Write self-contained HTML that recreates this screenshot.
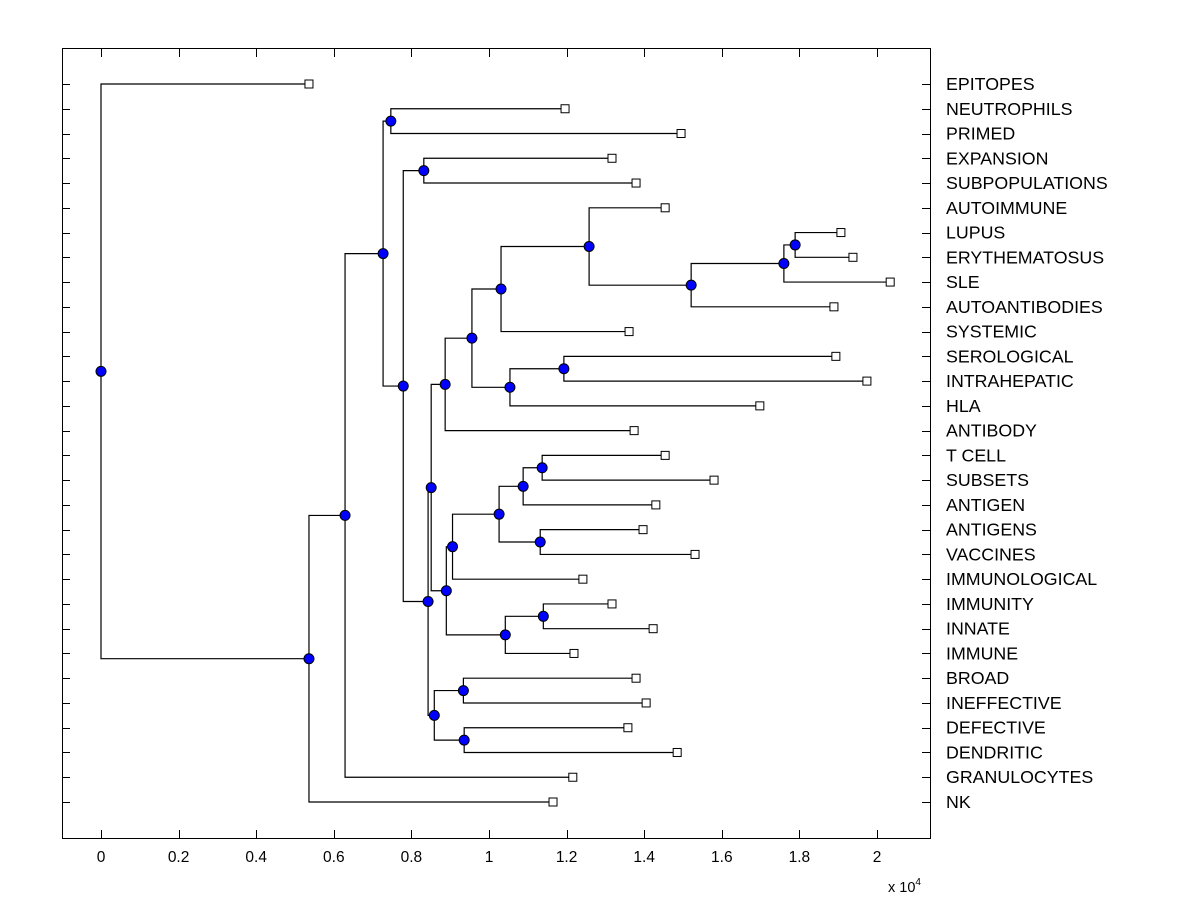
<!DOCTYPE html>
<html><head><meta charset="utf-8"><style>
html,body{margin:0;padding:0;background:#fff;}
svg{display:block;font-family:"Liberation Sans",Arial,sans-serif;}
</style></head><body>
<svg id="chart" width="1200" height="900" viewBox="0 0 1200 900" xmlns="http://www.w3.org/2000/svg">
<rect x="0" y="0" width="1200" height="900" fill="#fff"/>
<g id="ticks"></g>
<g id="tree"></g>
<g id="marks"></g>
<g id="labels"></g>
<rect x="62.5" y="48.5" width="868" height="790" fill="none" stroke="#000" stroke-width="1"/>
<text x="888" y="892" font-size="14.5">x 10<tspan dy="-7" font-size="10">4</tspan></text>
</svg>
<script>
const leafLabels = ["EPITOPES","NEUTROPHILS","PRIMED","EXPANSION","SUBPOPULATIONS","AUTOIMMUNE","LUPUS","ERYTHEMATOSUS","SLE","AUTOANTIBODIES","SYSTEMIC","SEROLOGICAL","INTRAHEPATIC","HLA","ANTIBODY","T CELL","SUBSETS","ANTIGEN","ANTIGENS","VACCINES","IMMUNOLOGICAL","IMMUNITY","INNATE","IMMUNE","BROAD","INEFFECTIVE","DEFECTIVE","DENDRITIC","GRANULOCYTES","NK"];
const leafHeights = [0.536,1.196,1.495,1.317,1.379,1.454,1.907,1.938,2.034,1.889,1.361,1.894,1.974,1.698,1.374,1.454,1.580,1.430,1.397,1.531,1.242,1.317,1.423,1.219,1.379,1.405,1.358,1.485,1.216,1.165];
const mergeLeft = [6,30,31,5,33,11,35,34,37,15,39,18,40,42,21,44,43,38,24,26,48,47,3,52,1,54,55,56,0];
const mergeRight = [7,8,9,32,10,12,13,36,14,16,17,19,41,20,22,23,45,46,25,27,49,50,4,51,2,53,28,29,57];
const mergeHeights = [1.789,1.760,1.521,1.258,1.031,1.193,1.054,0.956,0.887,1.137,1.088,1.132,1.026,0.906,1.140,1.042,0.890,0.851,0.934,0.936,0.859,0.843,0.832,0.779,0.747,0.727,0.629,0.536,0];
const xTicks = [0,0.2,0.4,0.6,0.8,1,1.2,1.4,1.6,1.8,2];
const xTickLabels = ["0","0.2","0.4","0.6","0.8","1","1.2","1.4","1.6","1.8","2"];

const NS = "http://www.w3.org/2000/svg";
const xS = v => 101 + v * 388;
const yS = i => 84 + i * (802 - 84) / 29;
function mk(tag, attrs, parent){const e=document.createElementNS(NS,tag);for(const k in attrs)e.setAttribute(k,attrs[k]);parent.appendChild(e);return e;}
const gT=document.getElementById('ticks'), gL=document.getElementById('tree'), gM=document.getElementById('marks'), gX=document.getElementById('labels');

xTicks.forEach((t,i)=>{
  const x=Math.round(xS(t))+0.5;
  const a=mk('line',{x1:x,y1:838,x2:x,y2:830,stroke:'#000'},gT);
  
  
  const b=mk('line',{x1:x,y1:49,x2:x,y2:57,stroke:'#000'},gT);
  
  
  const tx=mk('text',{x:xS(t),y:862,'font-size':15.5,'text-anchor':'middle'},gT);
  tx.textContent=xTickLabels[i];
  
  
});

const nodeX=[], nodeY=[];
leafLabels.forEach((lab,i)=>{
  nodeX[i]=xS(leafHeights[i]); nodeY[i]=yS(i);
  const y=Math.round(yS(i))+0.5;
  const a=mk('line',{x1:62,y1:y,x2:70,y2:y,stroke:'#000'},gT);
  
  
  const b=mk('line',{x1:922,y1:y,x2:930,y2:y,stroke:'#000'},gT);
  
  
  const t=mk('text',{x:946,y:yS(i)+6,'font-size':17.8},gX);
  t.textContent=lab;
  
  
});

mergeHeights.forEach((h,k)=>{
  const id=30+k, l=mergeLeft[k], r=mergeRight[k];
  const x=xS(h);
  nodeX[id]=x; nodeY[id]=(nodeY[l]+nodeY[r])/2;
  const p=mk('path',{d:`M${nodeX[l]},${nodeY[l]}H${x}V${nodeY[r]}H${nodeX[r]}`,fill:'none',stroke:'#000','stroke-width':1.2},gL);
  
  
});

leafLabels.forEach((lab,i)=>{
  const s=mk('rect',{x:nodeX[i]-4,y:nodeY[i]-4,width:8,height:8,fill:'#fff',stroke:'#000','stroke-width':1},gM);
  
  
});
mergeHeights.forEach((h,k)=>{
  const id=30+k;
  const c=mk('circle',{cx:nodeX[id],cy:nodeY[id],r:5,fill:'#0000ff',stroke:'#000','stroke-width':1},gM);
  
  
});
</script>
</body></html>
